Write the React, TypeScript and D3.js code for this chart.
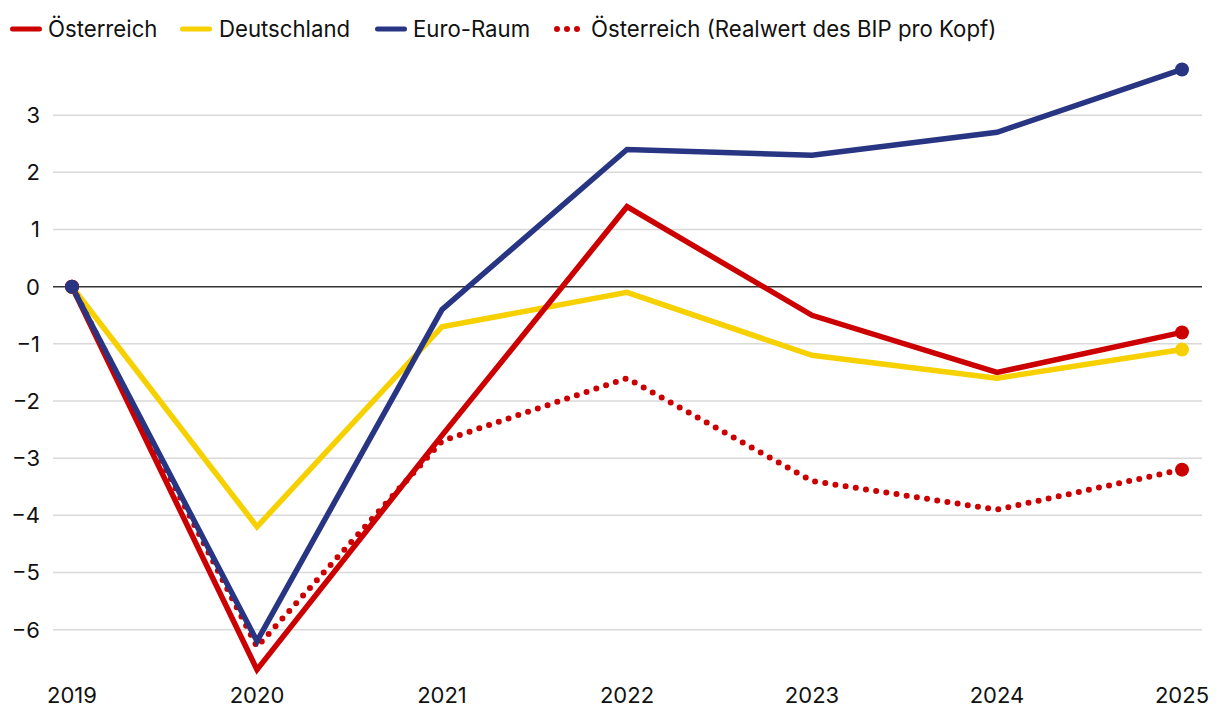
import React from "react";
import * as d3 from "d3";

const years = [2019, 2020, 2021, 2022, 2023, 2024, 2025];
const oesterreich = [0, -6.7, -2.6, 1.4, -0.5, -1.5, -0.8];
const deutschland = [0, -4.2, -0.7, -0.1, -1.2, -1.6, -1.1];
const euroRaum = [0, -6.2, -0.4, 2.4, 2.3, 2.7, 3.8];
const oesterreichKopf = [0, -6.3, -2.7, -1.6, -3.4, -3.9, -3.2];
const yTicks = [3, 2, 1, 0, -1, -2, -3, -4, -5, -6];
const legendLabels = ["Österreich", "Deutschland", "Euro-Raum", "Österreich (Realwert des BIP pro Kopf)"];

const RED = "#cc0000";
const YELLOW = "#f7d000";
const NAVY = "#283583";
const FONT = "Inter, 'Noto Sans', sans-serif";

export default function App() {
  const W = 1220, H = 724;
  const x = d3.scaleLinear().domain([2019, 2025]).range([72, 1182]);
  const y = d3.scaleLinear().domain([0, 3]).range([286.7, 115.2]);
  const line = d3.line<number>().x((_, i) => x(years[i])).y((v) => y(v));

  const series = [
    { data: deutschland, color: YELLOW, dotted: false },
    { data: oesterreich, color: RED, dotted: false },
    { data: oesterreichKopf, color: RED, dotted: true },
    { data: euroRaum, color: NAVY, dotted: false },
  ];

  const legendLineX = [10, 180, 375, 554];
  const legendTextX = [48, 219, 413, 591];
  const legendColors = [RED, YELLOW, NAVY, RED];

  return (
    <svg width={W} height={H} style={{ position: "absolute", left: 0, top: 0, background: "#fff" }} fontFamily={FONT}>
      {yTicks.map((t) => (
        <g key={t}>
          <line x1={53} x2={1202} y1={y(t)} y2={y(t)} stroke={t === 0 ? "#333" : "#d9d9d9"} strokeWidth={t === 0 ? 1.6 : 1.5} />
          <text x={40} y={y(t)} dy="0.36em" textAnchor="end" fontSize={22} fill="#111">
            {t < 0 ? "\u2212" + Math.abs(t) : String(t)}
          </text>
        </g>
      ))}
      {years.map((yr) => (
        <text key={yr} x={x(yr)} y={703} textAnchor="middle" fontSize={22} fill="#111">{yr}</text>
      ))}
      {series.map((s, i) => (
        <path key={i} d={line(s.data) || ""} fill="none" stroke={s.color}
          strokeWidth={s.dotted ? 6 : 5.5} strokeLinejoin="miter"
          strokeLinecap={s.dotted ? "round" : "butt"}
          strokeDasharray={s.dotted ? "0 10.3" : undefined} />
      ))}
      {series.map((s, i) => (
        <g key={"d" + i}>
          <circle cx={x(years[0])} cy={y(s.data[0])} r={7} fill={s.color} />
          <circle cx={x(years[years.length - 1])} cy={y(s.data[s.data.length - 1])} r={7} fill={s.color} />
        </g>
      ))}
      {legendLabels.map((lab, i) => (
        <g key={lab}>
          {i < 3 ? (
            <line x1={legendLineX[i] + 2.5} x2={legendLineX[i] + 29.5} y1={29} y2={29} stroke={legendColors[i]} strokeWidth={5} strokeLinecap="round" />
          ) : (
            <line x1={legendLineX[i] + 3} x2={legendLineX[i] + 24} y1={29} y2={29} stroke={legendColors[i]} strokeWidth={6} strokeLinecap="round" strokeDasharray="0 10" />
          )}
          <text x={legendTextX[i]} y={29} dy="0.36em" fontSize={22.2} fill="#111">{lab}</text>
        </g>
      ))}
    </svg>
  );
}
